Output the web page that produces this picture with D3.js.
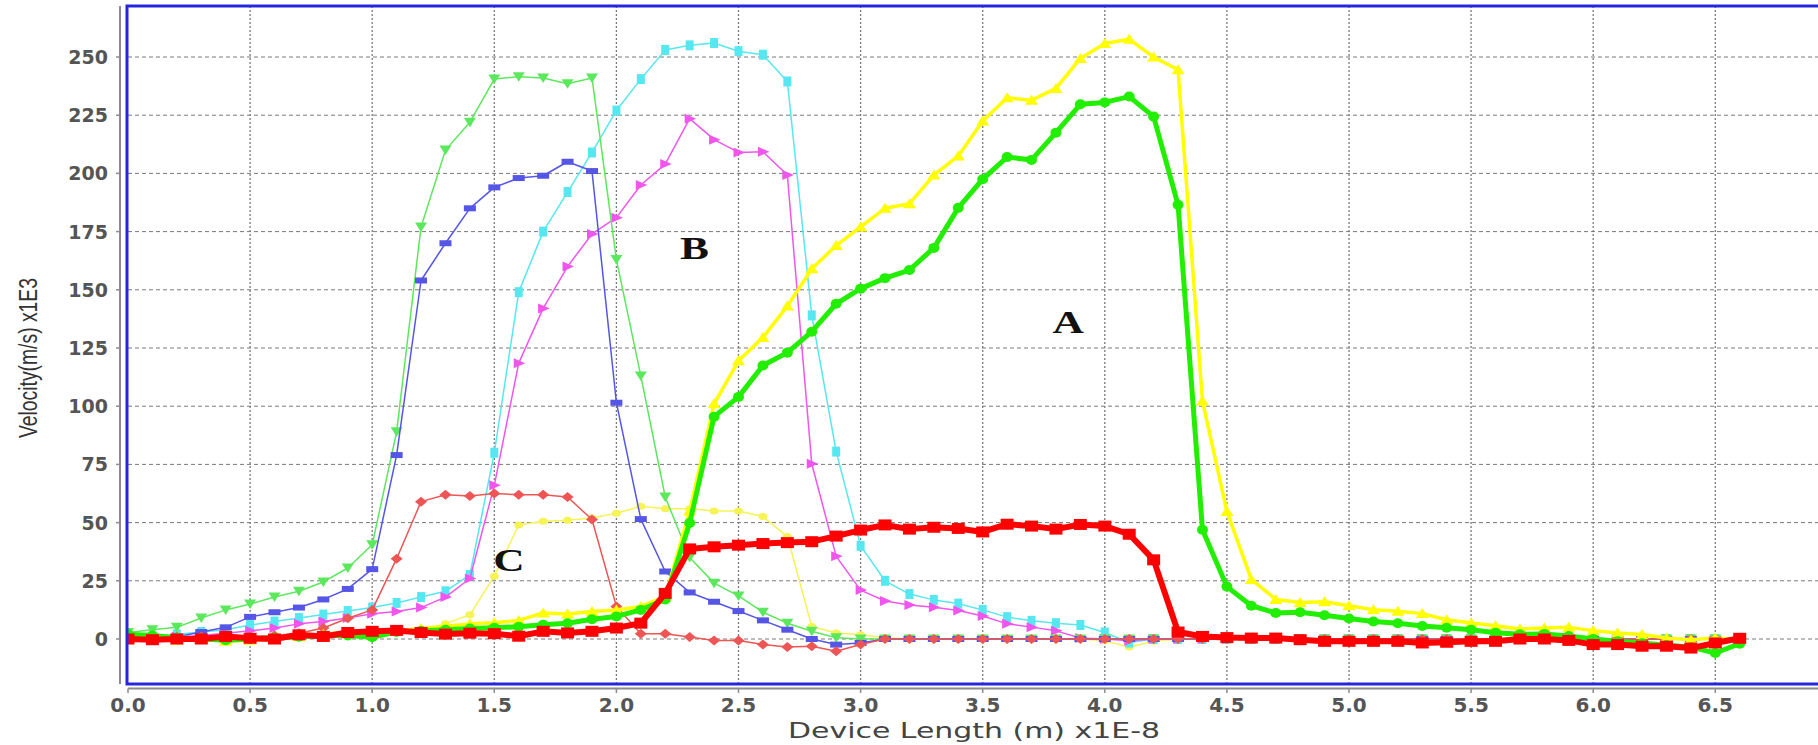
<!DOCTYPE html>
<html>
<head>
<meta charset="utf-8">
<script src="https://cdn.jsdelivr.net/npm/d3@7"></script>
<style>
  html, body { margin: 0; padding: 0; background: #fff; }
  svg { display: block; }
</style>
</head>
<body>
<div id="chart"></div>
<script>
"use strict";

// sample positions along the device, x1E-8 m
const positions = [
  0.0, 0.1, 0.2, 0.3, 0.4, 0.5, 0.6, 0.7, 0.8, 0.9,
  1.0, 1.1, 1.2, 1.3, 1.4, 1.5, 1.6, 1.7, 1.8, 1.9,
  2.0, 2.1, 2.2, 2.3, 2.4, 2.5, 2.6, 2.7, 2.8, 2.9,
  3.0, 3.1, 3.2, 3.3, 3.4, 3.5, 3.6, 3.7, 3.8, 3.9,
  4.0, 4.1, 4.2, 4.3, 4.4, 4.5, 4.6, 4.7, 4.8, 4.9,
  5.0, 5.1, 5.2, 5.3, 5.4, 5.5, 5.6, 5.7, 5.8, 5.9,
  6.0, 6.1, 6.2, 6.3, 6.4, 6.5, 6.6
];

// velocity x1E3 m/s
const yellowThin = [
  0, 0, -1, 0, -0.5, 0.5, 1, 1.5, 2, 2,
  2.5, 3, 3.5, 6.6, 10.4, 27, 49, 50.6, 51, 52,
  54, 57, 56, 56, 55, 55, 52.6, 44, 5.4, 2.6,
  1.8, 0.5, 0, 0, 0, 0, 0, 0, 0, 0,
  -0.8, -3.4, -1, 0, 0, 0, 0, 0, 0, 0,
  0, 0, 0, 0, 0, 0, 0, 0, 0, 0,
  0, 0, 0, 0, 0, 0, 0
];
const cyanThin = [
  1, 1, 2, 3, 4, 6, 7.5, 9, 10.5, 12,
  13.5, 15.5, 18, 20.5, 27.5, 80, 149, 175, 192, 209,
  227, 240.5, 253, 255, 256, 252.5, 251, 239.5, 139, 80.5,
  40, 25, 19.3, 16.8, 15.2, 12.5, 9.4, 7.8, 6.8, 6,
  2.8, -1.5, 0, 0, 0, 0, 0, 0, 0, 0,
  0, 0, 0, 0, 0, 0, 0, 0, 0, 0,
  0, 0, 0, 0, 0, 0, 0
];
const magentaThin = [
  0, 0.5, 1, 1.5, 2.5, 3.5, 4.7, 6.5, 7.5, 9,
  10.8, 11.8, 13.5, 18, 26, 66, 118.5, 142, 160, 174,
  181, 195, 204, 223.5, 214.5, 209, 209.3, 199.3, 75.3, 35.5,
  21, 16.3, 14.6, 13.6, 12.2, 9.9, 6.5, 5.1, 3.5, 0.4,
  0, -0.8, 0, 0, 0, 0, 0, 0, 0, 0,
  0, 0, 0, 0, 0, 0, 0, 0, 0, 0,
  0, 0, 0, 0, 0, 0, 0
];
const greenThin = [
  2.8, 4, 5, 9, 12.5, 15, 18, 20.5, 24.5, 30.5,
  40.5, 89, 177, 210, 222, 240.5, 241.5, 241, 238.5, 241,
  163, 113, 61, 35, 24, 18.5, 11.5, 6.8, 3.3, 0.5,
  0, 0, 0, 0, 0, 0, 0, 0, 0, 0,
  0, 0, 0, 0, 0, 0, 0, 0, 0, 0,
  0, 0, 0, 0, 0, 0, 0, 0, 0, 0,
  0, 0, 0, 0, 0, 0, 0
];
const blueThin = [
  1, 1, 1, 3, 5, 9.5, 11.5, 13.5, 17, 21.5,
  30, 79, 154, 170, 185, 194, 198, 199, 205, 201,
  101.5, 51.5, 29, 20, 16, 12, 8, 4, 0, -2.4,
  -1.7, 0, 0, 0, 0, 0, 0, 0, 0, 0,
  0, 0, 0, 0, 0, 0, 0, 0, 0, 0,
  0, 0, 0, 0, 0, 0, 0, 0, 0, 0,
  0, 0, 0, 0, 0, 0, 0
];
const redThin = [
  1, 1, 1, 1, 1, 1, 1.5, 2.5, 4.7, 8.9,
  12.5, 34.5, 59, 62, 61.4, 62.5, 62, 62, 61, 51.3,
  14, 2.3, 2.3, 0.9, -0.6, -0.6, -2.4, -3.4, -3.1, -5.3,
  -2.4, 0, 0, 0, 0, 0, 0, 0, 0, 0,
  0, 0, 0, 0, 0, 0, 0, 0, 0, 0,
  0, 0, 0, 0, 0, 0, 0, 0, 0, 0,
  0, 0, 0, 0, 0, 0, 0
];
const yellowThick = [
  0.5, -0.5, -0.5, 0, -1, -0.5, 0, 1, 2, 3,
  3, 3.5, 4.5, 5.5, 6.5, 7, 8, 11.2, 10.7, 11.8,
  12.5, 14, 18.2, 55, 101, 119.5, 129.5, 143, 159, 169,
  177, 185, 187, 199.3, 207.5, 222.5, 232.5, 231.4, 236.5, 249.4,
  255.8, 257.6, 250, 244.5, 102.2, 54.8, 25.6, 17, 15.7, 16,
  14.3, 12.6, 11.9, 10.9, 8.3, 6.9, 5.7, 4.3, 4.7, 5,
  3.6, 2.6, 1.9, 0.4, -0.3, 0.4, -0.3
];
const greenThick = [
  2, 1.5, 0.5, 0, -0.5, 0, 0.5, 1, 1.5, 1.5,
  0.8, 3, 3.5, 4, 4.5, 4.8, 5.3, 6.1, 6.8, 8.5,
  9.7, 12.5, 17, 49.8, 95.5, 104, 117.5, 123, 132, 144,
  150.5, 155, 158.5, 168, 185.2, 197.5, 207, 205.8, 217.5, 229.7,
  230.5, 233, 224.4, 186.5, 46.9, 22.5, 14.3, 11.2, 11.5, 10.2,
  8.8, 7.5, 6.8, 5.6, 4.8, 4, 2.7, 2, 2.2, 1.3,
  0, -1, -1.8, -2.6, -3.5, -6, -2
];
const redThick = [
  0, -0.3, 0, 0, 1.1, 0.3, 0, 1.8, 1.1, 2.8,
  3.3, 3.7, 2.8, 2.1, 2.5, 2.3, 1.2, 3.3, 2.6, 3.3,
  4.7, 6.8, 19.6, 38.7, 39.6, 40.3, 41, 41.4, 41.8, 44.2,
  46.8, 49, 47.2, 48, 47.5, 46, 49.3, 48.5, 47.2, 49.2,
  48.5, 45, 34, 3, 1.1, 0.6, 0.4, 0.4, -0.3, -1,
  -1, -1, -1, -1.7, -1.4, -1, -1, 0, 0, -0.6,
  -2.4, -2.4, -3.1, -3.1, -3.9, -1.7, 0.3
];

const xTicks = [0.0, 0.5, 1.0, 1.5, 2.0, 2.5, 3.0, 3.5, 4.0, 4.5, 5.0, 5.5, 6.0, 6.5];
const yTicks = [0, 25, 50, 75, 100, 125, 150, 175, 200, 225, 250];
const regionLabels = [
  { text: "A", x: 3.85, y: 136 },
  { text: "B", x: 2.32, y: 168 },
  { text: "C", x: 1.56, y: 34 }
];

// drawing order: first is at the bottom
const seriesList = [
  { name: "yellowThin", values: yellowThin, color: "#f6f455", width: 1.5, marker: "ellipse" },
  { name: "cyanThin", values: cyanThin, color: "#55e8f0", width: 1.5, marker: "vrect" },
  { name: "magentaThin", values: magentaThin, color: "#f055ee", width: 1.5, marker: "triRight" },
  { name: "greenThin", values: greenThin, color: "#5ce85c", width: 1.5, marker: "triDown" },
  { name: "blueThin", values: blueThin, color: "#5555e6", width: 1.5, marker: "hbar" },
  { name: "redThin", values: redThin, color: "#ee5555", width: 1.5, marker: "diamond" },
  { name: "yellowThick", values: yellowThick, color: "#ffff00", width: 3.5, marker: "triUp" },
  { name: "greenThick", values: greenThick, color: "#22ee00", width: 5, marker: "circle" },
  { name: "redThick", values: redThick, color: "#ff0000", width: 6, marker: "square" }
];

const markerShapes = {
  square: "M-6.5,-5.5h13v11h-13z",
  circle: "M-5.5,0a5.5,5 0 1,0 11,0a5.5,5 0 1,0 -11,0",
  triUp: "M0,-5.5L6.5,4.5L-6.5,4.5Z",
  triDown: "M-6,-4.5L6,-4.5L0,5Z",
  triRight: "M-5,-5L6.5,0L-5,5Z",
  diamond: "M0,-5L6,0L0,5L-6,0Z",
  hbar: "M-6,-3h12v6h-12z",
  vrect: "M-4,-5h8v10h-8z",
  ellipse: "M-4.5,0a4.5,3.5 0 1,0 9,0a4.5,3.5 0 1,0 -9,0"
};

const width = 1818;
const height = 745;
const plotTop = 6;
const plotBottom = 684;

const x = d3.scaleLinear().domain([0, 7]).range([128, 128 + 7 * 244.2]);
const y = d3.scaleLinear().domain([0, 250]).range([639, 57]);

const svg = d3
  .select("#chart")
  .append("svg")
  .attr("width", width)
  .attr("height", height);

svg.append("defs")
  .append("clipPath")
  .attr("id", "plot-clip")
  .append("rect")
  .attr("x", x(0))
  .attr("y", plotTop)
  .attr("width", width)
  .attr("height", plotBottom - plotTop);

// grid
const grid = svg.append("g").attr("class", "grid");
grid.selectAll(".hgrid")
  .data(yTicks)
  .join("line")
  .attr("class", "hgrid")
  .attr("x1", x(0))
  .attr("x2", width)
  .attr("y1", (d) => y(d))
  .attr("y2", (d) => y(d))
  .attr("stroke", "#7a7a7a")
  .attr("stroke-width", 1)
  .attr("stroke-dasharray", "4,3");
grid.selectAll(".vgrid")
  .data(xTicks.slice(1))
  .join("line")
  .attr("class", "vgrid")
  .attr("x1", (d) => x(d))
  .attr("x2", (d) => x(d))
  .attr("y1", plotTop)
  .attr("y2", plotBottom)
  .attr("stroke", "#7a7a7a")
  .attr("stroke-width", 1.3)
  .attr("stroke-dasharray", "2,2");

// series
const lineGen = d3
  .line()
  .x((d) => x(d.pos))
  .y((d) => y(d.v));

const seriesLayer = svg.append("g").attr("clip-path", "url(#plot-clip)");
seriesList.forEach((s) => {
  const pts = positions.map((p, i) => ({ pos: p, v: s.values[i] }));
  const g = seriesLayer.append("g").attr("class", s.name);
  g.append("path")
    .datum(pts)
    .attr("fill", "none")
    .attr("stroke", s.color)
    .attr("stroke-width", s.width)
    .attr("stroke-linejoin", "round")
    .attr("d", lineGen);
  g.selectAll("path.marker")
    .data(pts)
    .join("path")
    .attr("class", "marker")
    .attr("d", markerShapes[s.marker])
    .attr("transform", (d) => `translate(${x(d.pos)},${y(d.v)})`)
    .attr("fill", s.color);
});

// plot border
svg.append("rect")
  .attr("x", x(0) - 1)
  .attr("y", plotTop)
  .attr("width", width + 20)
  .attr("height", plotBottom - plotTop)
  .attr("fill", "none")
  .attr("stroke", "#2626e0")
  .attr("stroke-width", 3);

// axes
const axisColor = "#8c8c8c";
svg.append("line")
  .attr("x1", 120).attr("x2", 120)
  .attr("y1", plotTop).attr("y2", plotBottom)
  .attr("stroke", axisColor).attr("stroke-width", 2);
svg.append("line")
  .attr("x1", x(0)).attr("x2", width)
  .attr("y1", 688.5).attr("y2", 688.5)
  .attr("stroke", axisColor).attr("stroke-width", 2);

svg.selectAll(".xtick")
  .data(xTicks)
  .join("line")
  .attr("class", "xtick")
  .attr("x1", (d) => x(d)).attr("x2", (d) => x(d))
  .attr("y1", 688.5).attr("y2", 693)
  .attr("stroke", axisColor).attr("stroke-width", 1.5);
svg.selectAll(".ytick")
  .data(yTicks)
  .join("line")
  .attr("class", "ytick")
  .attr("x1", 116).attr("x2", 120)
  .attr("y1", (d) => y(d)).attr("y2", (d) => y(d))
  .attr("stroke", axisColor).attr("stroke-width", 1.5);

svg.selectAll(".xlabel")
  .data(xTicks)
  .join("text")
  .attr("class", "xlabel")
  .attr("x", (d) => x(d))
  .attr("y", 705)
  .attr("text-anchor", "middle")
  .attr("dominant-baseline", "central")
  .attr("font-family", "DejaVu Sans")
  .attr("font-weight", "bold")
  .attr("font-size", 20)
  .attr("fill", "#555")
  .text((d) => d.toFixed(1));

svg.selectAll(".ylabel")
  .data(yTicks)
  .join("text")
  .attr("class", "ylabel")
  .attr("x", 108)
  .attr("y", (d) => y(d))
  .attr("text-anchor", "end")
  .attr("dominant-baseline", "central")
  .attr("font-family", "DejaVu Sans")
  .attr("font-weight", "bold")
  .attr("font-size", 19)
  .attr("fill", "#555")
  .text((d) => d);

svg.append("text")
  .attr("x", 974)
  .attr("y", 731)
  .attr("text-anchor", "middle")
  .attr("dominant-baseline", "central")
  .attr("font-family", "DejaVu Sans")
  .attr("font-size", 21)
  .attr("fill", "#444")
  .attr("textLength", 372)
  .attr("lengthAdjust", "spacingAndGlyphs")
  .text("Device Length (m) x1E-8");

svg.append("text")
  .attr("transform", "translate(28,358) rotate(-90)")
  .attr("text-anchor", "middle")
  .attr("dominant-baseline", "central")
  .attr("font-family", "Liberation Sans")
  .attr("font-size", 26)
  .attr("fill", "#333")
  .attr("textLength", 160)
  .attr("lengthAdjust", "spacingAndGlyphs")
  .text("Velocity(m/s) x1E3");

// region annotations
svg.selectAll(".region")
  .data(regionLabels)
  .join("text")
  .attr("class", "region")
  .attr("transform", (d) => `translate(${x(d.x)},${y(d.y)}) scale(1.4,1)`)
  .attr("text-anchor", "middle")
  .attr("dominant-baseline", "central")
  .attr("font-family", "Liberation Serif")
  .attr("font-weight", "bold")
  .attr("font-size", 31)
  .attr("fill", "#111")
  .text((d) => d.text);
</script>
</body>
</html>
